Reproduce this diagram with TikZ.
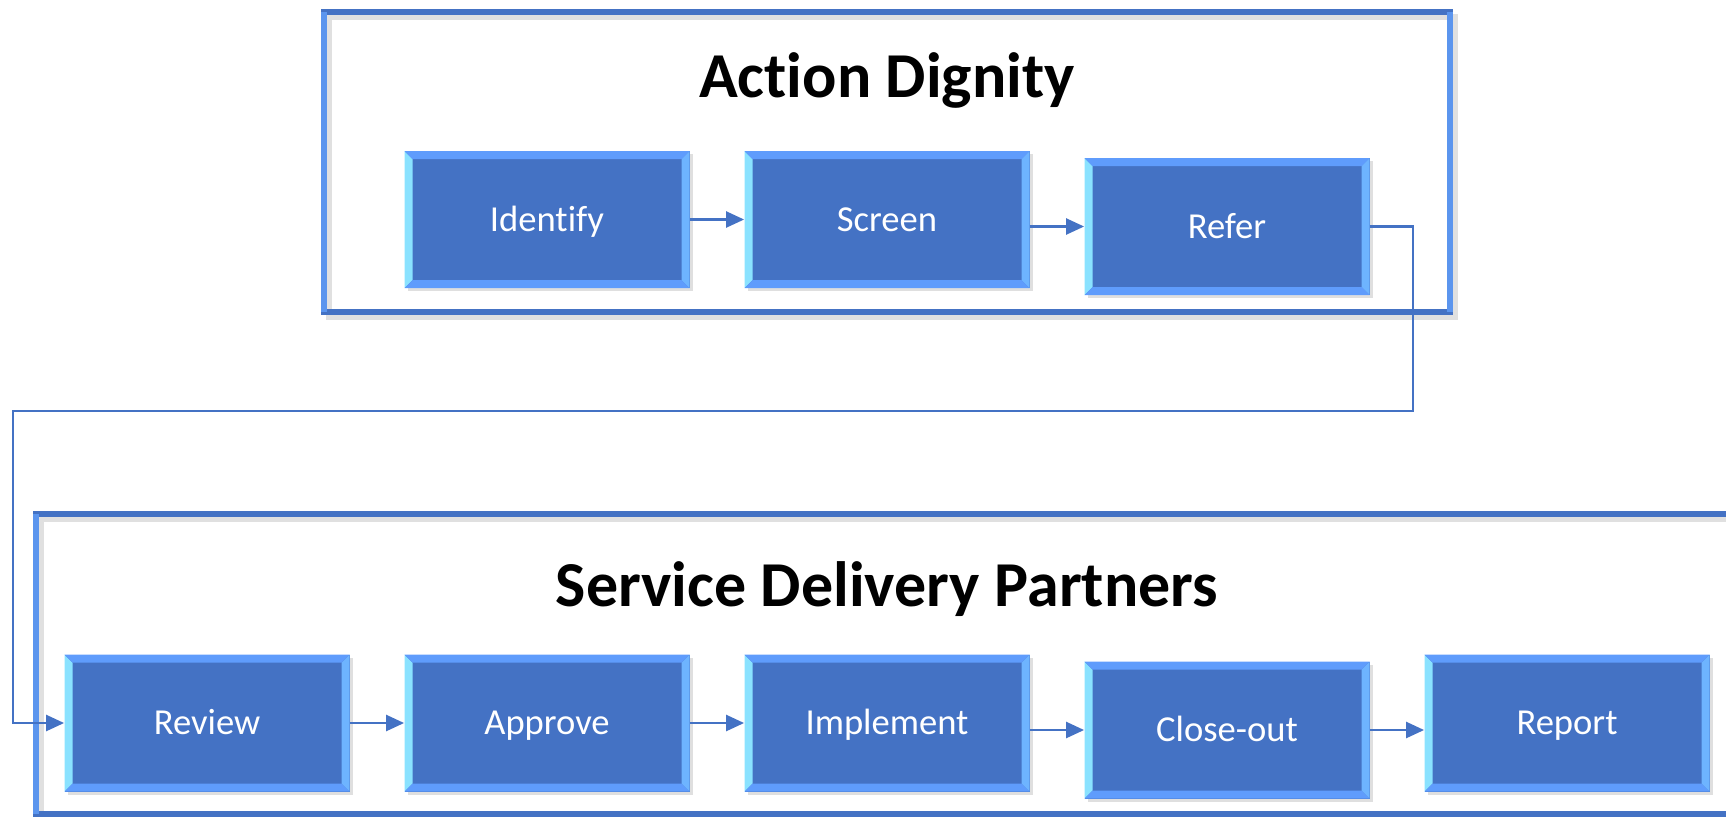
\documentclass[tikz,border=0pt]{standalone}
\usepackage{fontspec}
\setmainfont{Carlito}[Ligatures=NoCommon]
\usetikzlibrary{positioning,shadows,arrows.meta}

\definecolor{boxfill}{HTML}{4472C4}
\definecolor{bevtop}{HTML}{5F9CFC}
\definecolor{bevleft}{HTML}{8AE2FF}
\definecolor{bevright}{HTML}{6EB4FF}
\definecolor{panelside}{HTML}{5B95EE}

\newcommand{\bevw}{4pt}

\tikzset{
	stepbox/.style={fill=boxfill, text=white, font=\fontsize{18.3}{20}\selectfont,
		minimum width=142.5pt, minimum height=68.5pt, inner sep=0pt,
		text height=11.8pt, text depth=0pt,
		drop shadow={shadow xshift=1.5pt, shadow yshift=-1.5pt, opacity=0.25},
		path picture={
			\path (path picture bounding box.north west) coordinate (nw)
				(path picture bounding box.north east) coordinate (ne)
				(path picture bounding box.south west) coordinate (sw)
				(path picture bounding box.south east) coordinate (se);
			\fill[bevleft] (nw) -- ([shift={(\bevw,-\bevw)}]nw) -- ([shift={(\bevw,\bevw)}]sw) -- (sw) -- cycle;
			\fill[bevright] (ne) -- ([shift={(-\bevw,-\bevw)}]ne) -- ([shift={(-\bevw,\bevw)}]se) -- (se) -- cycle;
			\fill[bevtop] (nw) -- (ne) -- ([shift={(-\bevw,-\bevw)}]ne) -- ([shift={(\bevw,-\bevw)}]nw) -- cycle;
			\fill[bevtop] (sw) -- (se) -- ([shift={(-\bevw,\bevw)}]se) -- ([shift={(\bevw,\bevw)}]sw) -- cycle;
		}},
	heading/.style={font=\fontsize{32}{36}\selectfont\bfseries, text=black, anchor=base},
	panel/.style={draw=boxfill, line width=3pt},
	panelwall/.style={draw=panelside, line width=3pt},
	panelshade/.style={draw=black, opacity=0.12, line width=3pt},
	conn/.style={boxfill, line width=1.2pt, -{Triangle[length=9pt,width=8pt]}}
}

\begin{document}
\begin{tikzpicture}[x=0.5pt, y=-0.5pt, node distance=170pt, on grid]
	\path[use as bounding box, clip] (0,0) rectangle (1726,816);

	% the two panels
	\foreach \l/\t/\r/\b in {324/12/1450/312, 36/514/1760/814}{
		\draw[panelshade] (\l+5,\t+5) rectangle (\r+5,\b+5);
		\draw[panel] (\l,\t) rectangle (\r,\b);
		\draw[panelwall] (\l,\t) -- (\l,\b) (\r,\t) -- (\r,\b);
	}

	\node[heading] (ADtitle) at (887,97) {Action Dignity};
	\node[heading] (SDPtitle) at (887,606) {Service Delivery Partners};

	% Action Dignity
	\node[stepbox] (Identify) at (547,219.5) {Identify};
	\node[stepbox] (Screen) [right=of Identify] {Screen};
	\node[stepbox] (Refer) [right=of Screen, yshift=-3.5pt] {Refer};

	% Service Delivery Partners
	\node[stepbox] (Review) at (207,723) {Review};
	\node[stepbox] (Approve) [right=of Review] {Approve};
	\node[stepbox] (Implement) [right=of Approve] {Implement};
	\node[stepbox] (Closeout) [right=of Implement, yshift=-3.5pt] {Close-out};
	\node[stepbox] (Report) [right=of Closeout, yshift=3.5pt] {Report};

	\path[conn]
		(Identify) edge (Screen)
		(Screen.east |- Refer) edge (Refer)
		(Review) edge (Approve)
		(Approve) edge (Implement)
		(Implement.east |- Closeout) edge (Closeout)
		(Closeout) edge (Closeout -| Report.west);

	% hand-over between the panels
	\coordinate (turnR) at (1413,411);
	\coordinate (turnL) at (13,411);
	\draw[conn] (Refer.east) -| (turnR) -- (turnL) |- (Review.west);
\end{tikzpicture}
\end{document}
